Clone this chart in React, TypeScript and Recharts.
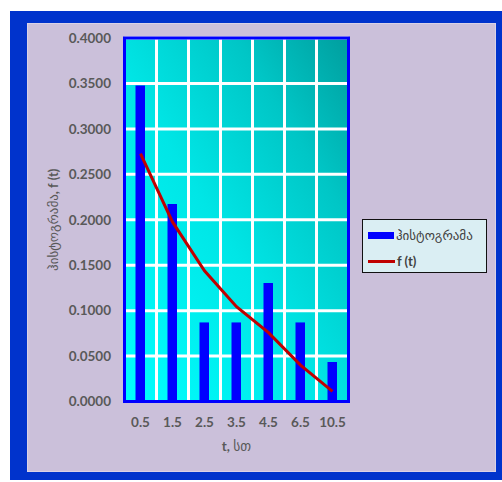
import React from 'react';
import {
  ComposedChart,
  Bar,
  Line,
  XAxis,
  YAxis,
  CartesianGrid,
  Legend,
  ReferenceArea,
} from 'recharts';

// Time intervals (class midpoints, hours)
const categories = ['0.5', '1.5', '2.5', '3.5', '4.5', '6.5', '10.5'];
// Relative frequencies (histogram)
const histogram = [0.3478, 0.2174, 0.087, 0.087, 0.1304, 0.087, 0.0435];
// Fitted density f(t)
const density = [0.2727, 0.1976, 0.1438, 0.1044, 0.0758, 0.04, 0.0111];
// Value axis ticks
const yTicks = [0, 0.05, 0.1, 0.15, 0.2, 0.25, 0.3, 0.35, 0.4];

const barName = 'ჰისტოგრამა';
const lineName = 'f (t)';
const xTitleLatin = 't, ';
const xTitleGeo = 'სთ';
const yTitleGeo = 'ჰისტოგრამა';
const yTitleLatin = ', f (t)';

const data = categories.map((t, i) => ({ t, hist: histogram[i], f: density[i] }));

const FONT = "Lato, 'DejaVu Sans', sans-serif";
const AXIS_TEXT = '#595959';
const BAR_COLOR = '#0000FF';
const LINE_COLOR = '#C00000';

const tickStyle = {
  fontFamily: FONT,
  fontWeight: 700,
  fontSize: 13.5,
  fill: AXIS_TEXT,
};

// Georgian glyphs are set in regular weight, Latin in bold
const isGeorgian = (s: string) => /[\u10A0-\u10FF]/.test(s);

const LegendBox = (props: any) => {
  const payload = [...(props.payload || [])].sort((a: any, b: any) =>
    a.dataKey === 'hist' ? -1 : b.dataKey === 'hist' ? 1 : 0
  );
  return (
    <div
      style={{
        boxSizing: 'border-box',
        width: 125,
        height: 54,
        border: '1.5px solid #111',
        background: '#DAEEF3',
        padding: '2px 0 0 5px',
        fontFamily: FONT,
        fontSize: 13,
        color: '#404040',
      }}
    >
      {payload.map((p: any) => (
        <div key={p.dataKey} style={{ display: 'flex', alignItems: 'center', height: 26 }}>
          {p.dataKey === 'hist' ? (
            <span style={{ display: 'inline-block', width: 26, height: 7, background: BAR_COLOR }} />
          ) : (
            <span style={{ display: 'inline-block', width: 27, height: 3, background: LINE_COLOR }} />
          )}
          <span
            style={{
              marginLeft: 2,
              whiteSpace: 'nowrap',
              fontWeight: isGeorgian(p.value) ? 400 : 700,
            }}
          >
            {p.value}
          </span>
        </div>
      ))}
    </div>
  );
};

const YTitle = (props: any) => {
  const vb = props.viewBox || {};
  const cx = vb.x + 53;
  const cy = vb.y + vb.height / 2;
  return (
    <text
      x={cx}
      y={cy}
      transform={`rotate(-90 ${cx} ${cy})`}
      textAnchor="middle"
      dominantBaseline="central"
      style={{ fontFamily: FONT, fontSize: 13, fill: AXIS_TEXT }}
    >
      <tspan fontWeight={400}>{yTitleGeo}</tspan>
      <tspan fontWeight={700}>{yTitleLatin}</tspan>
    </text>
  );
};

const XTitle = (props: any) => {
  const vb = props.viewBox || {};
  const cx = vb.x + vb.width / 2;
  const y = vb.y + 49;
  return (
    <text
      x={cx}
      y={y}
      textAnchor="middle"
      style={{ fontFamily: FONT, fontSize: 13.5, fill: AXIS_TEXT }}
    >
      <tspan fontWeight={700}>{xTitleLatin}</tspan>
      <tspan fontWeight={400}>{xTitleGeo}</tspan>
    </text>
  );
};

export default function App() {
  return (
    <div style={{ position: 'absolute', left: 0, top: 0, width: 502, height: 482, background: '#fff' }}>
      <div
        style={{ position: 'absolute', left: 10, top: 11, width: 492, height: 469, background: '#0033CC' }}
      />
      <div
        style={{
          position: 'absolute',
          left: 27,
          top: 23,
          width: 469,
          height: 449,
          boxSizing: 'border-box',
          background: '#CBC0DA',
          border: '1px solid #D9D2E6',
        }}
      />
      <div style={{ position: 'absolute', left: 0, top: 0 }}>
        <ComposedChart
          width={502}
          height={482}
          data={data}
          margin={{ top: 38, right: 153.5, bottom: 0, left: 0 }}
          barCategoryGap={0}
        >
          <defs>
            <linearGradient id="plotFill" x1="0" y1="1" x2="1" y2="0">
              <stop offset="0%" stopColor="#00FFFF" />
              <stop offset="45%" stopColor="#00E6E6" />
              <stop offset="75%" stopColor="#00C6C6" />
              <stop offset="100%" stopColor="#009E9E" />
            </linearGradient>
          </defs>
          <CartesianGrid
            fill="url(#plotFill)"
            fillOpacity={1}
            stroke="#FFFFFF"
            strokeWidth={3}
            verticalCoordinatesGenerator={({ offset }: any) =>
              categories
                .slice(1)
                .map((_, i) => offset.left + ((i + 1) * offset.width) / categories.length)
            }
          />
          <XAxis
            dataKey="t"
            height={80.5}
            axisLine={false}
            tickLine={false}
            tickSize={0}
            tickMargin={15.5}
            tick={tickStyle}
            interval={0}
            label={{ content: XTitle }}
          />
          <YAxis
            width={124.5}
            domain={[0, 0.4]}
            ticks={yTicks}
            axisLine={false}
            tickLine={false}
            tickSize={0}
            tickMargin={13.5}
            tick={tickStyle}
            tickFormatter={(v: number) => v.toFixed(4)}
            label={{ content: YTitle }}
          />
          <ReferenceArea
            y1={0}
            y2={0.4}
            fill="none"
            stroke={BAR_COLOR}
            strokeWidth={3}
            ifOverflow="visible"
          />
          <Bar dataKey="hist" name={barName} fill={BAR_COLOR} barSize={9.5} isAnimationActive={false} />
          <Line
            dataKey="f"
            name={lineName}
            type="linear"
            stroke={LINE_COLOR}
            strokeWidth={3}
            dot={false}
            activeDot={false}
            isAnimationActive={false}
          />
          <Legend
            layout="vertical"
            align="center"
            verticalAlign="middle"
            content={LegendBox}
            wrapperStyle={{ left: 362, top: 219, width: 125, height: 54 }}
          />
        </ComposedChart>
      </div>
    </div>
  );
}
